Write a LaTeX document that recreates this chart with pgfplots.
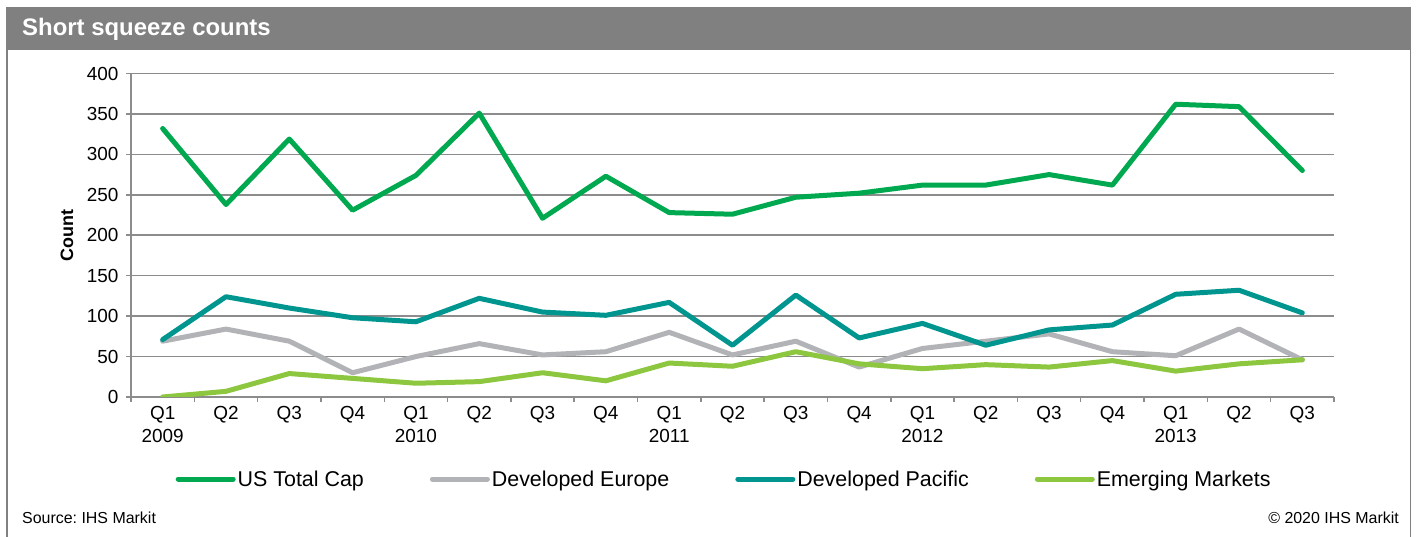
\documentclass[border=0pt]{standalone}
\usepackage{fontspec}
\setmainfont{Liberation Sans}
\usepackage{pgfplots}
\pgfplotsset{compat=1.18}
\frenchspacing
\definecolor{usgreen}{RGB}{0,169,79}
\definecolor{eugray}{RGB}{178,179,182}
\definecolor{pacteal}{RGB}{0,150,143}
\definecolor{emgreen}{RGB}{141,198,63}
\definecolor{gridgray}{RGB}{140,140,140}
\definecolor{titlegray}{RGB}{128,128,128}
\pgfplotstableread{
x us eu pac em
0 332 69 71 0
1 238 84 124 7
2 319 69 110 29
3 231 30 98 23
4 274 50 93 17
5 351 66 122 19
6 221 52 105 30
7 273 56 101 20
8 228 80 117 42
9 226 52 64 38
10 247 69 126 56
11 252 37 73 41
12 262 60 91 35
13 262 69 64 40
14 275 78 83 37
15 262 56 89 45
16 362 51 127 32
17 359 84 132 41
18 280 46 104 46
}\datatable
\begin{document}
\begin{tikzpicture}[x=1bp,y=1bp]
\path[use as bounding box] (0bp,0bp) rectangle (1416bp,537bp);
\fill[titlegray] (6bp,487bp) rectangle (1411bp,530bp);
\draw[titlegray, line width=1.5bp] (6.75bp,0bp) -- (6.75bp,487bp);
\draw[titlegray, line width=1.5bp] (1410.25bp,0bp) -- (1410.25bp,487bp);
\node[anchor=base west, text=white, inner sep=0pt, font=\bfseries\fontsize{24}{28}\selectfont] at (22bp,501bp) {Short squeeze counts};
\node[anchor=base west, inner sep=0pt, font=\fontsize{16}{19}\selectfont] at (22bp,14bp) {Source: IHS Markit};
\node[anchor=base east, inner sep=0pt, font=\fontsize{16}{19}\selectfont] at (1399bp,14bp) {\textcopyright\ 2020 IHS Markit};
\begin{axis}[
  at={(131bp,140bp)}, anchor=south west,
  scale only axis, width=1203bp, height=323.5bp,
  xmin=-0.5, xmax=18.5, ymin=0, ymax=400,
  axis x line*=bottom, axis y line*=left,
  axis line style={gridgray, line width=1.5bp},
  xtick={0,...,18},
  xticklabels={{Q1\\2009},Q2,Q3,Q4,{Q1\\2010},Q2,Q3,Q4,{Q1\\2011},Q2,Q3,Q4,{Q1\\2012},Q2,Q3,Q4,{Q1\\2013},Q2,Q3},
  minor xtick={-0.5,0.5,...,18.5},
  ytick={0,50,...,400},
  /pgf/number format/assume math mode=true,
  tick align=outside,
  major tick length=5bp, minor tick length=5bp,
  major x tick style={draw=none},
  minor x tick style={gridgray, line width=1.5bp},
  major y tick style={gridgray, line width=1.5bp},
  ymajorgrids, grid style={gridgray, line width=1.5bp},
  xticklabel style={align=center, font=\fontsize{19}{23}\selectfont, yshift=-1bp},
  yticklabel style={font=\fontsize{19}{22}\selectfont, xshift=-4bp},
  ylabel={\textbf{Count}},
  ylabel style={at={(axis description cs:-0.0532,0.5)}, anchor=center, font=\fontsize{18}{22}\selectfont},
  legend columns=4,
  legend cell align=left,
  legend style={at={(axis description cs:0.037,0)}, anchor=west, yshift=-82bp,
    draw=none, fill=none, inner sep=0pt, font=\fontsize{21.5}{25}\selectfont,
    nodes={inner xsep=2bp},
    /tikz/every odd column/.append style={column sep=0bp},
    /tikz/every even column/.append style={column sep=64bp}},
  legend image code/.code={\draw[#1, line cap=round] (0bp,0bp) -- (55bp,0bp);},
  every axis plot/.append style={line width=5bp, line join=round, line cap=round},
]
\addplot[usgreen] table[x=x,y=us] {\datatable};
\addlegendentry{US Total Cap}
\addplot[eugray] table[x=x,y=eu] {\datatable};
\addlegendentry{Developed Europe}
\addplot[pacteal] table[x=x,y=pac] {\datatable};
\addlegendentry{Developed Pacific}
\addplot[emgreen] table[x=x,y=em] {\datatable};
\addlegendentry{Emerging Markets}
\end{axis}
\end{tikzpicture}
\end{document}
